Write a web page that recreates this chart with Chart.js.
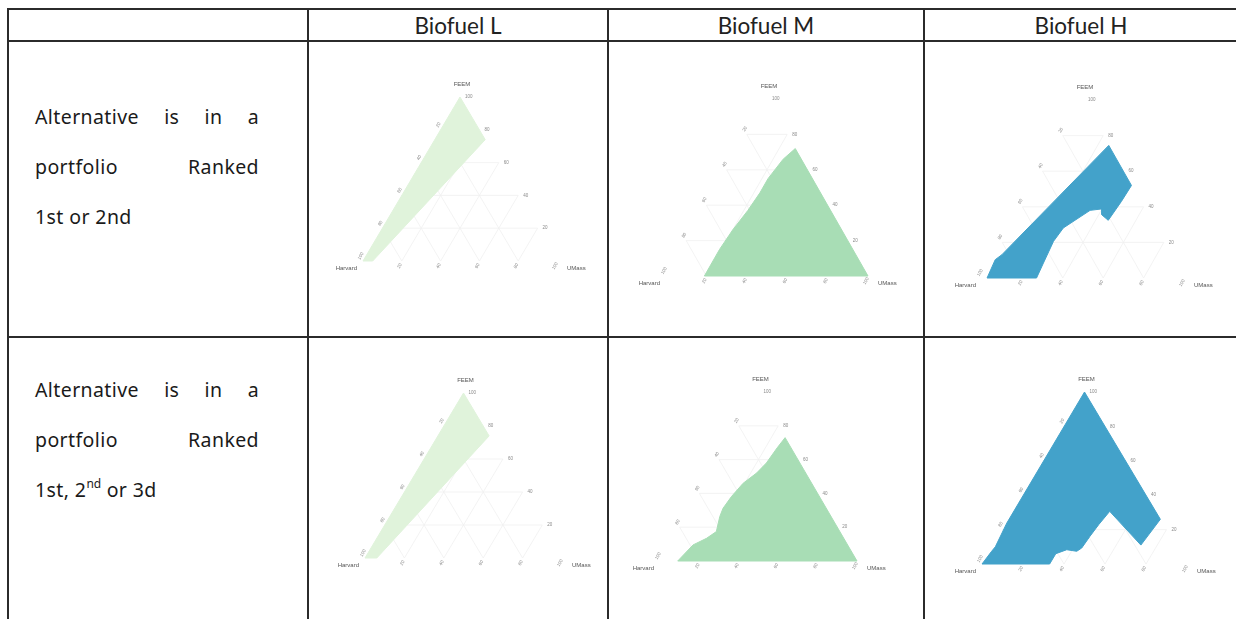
<!DOCTYPE html>
<html lang="en">
<head>
<meta charset="UTF-8">
<title>Biofuel portfolios - ternary maps</title>
<script src="https://cdn.jsdelivr.net/npm/chart.js"></script>
<style>
* { margin: 0; padding: 0; box-sizing: border-box; }
body {
    width: 1236px;
    height: 619px;
    position: relative;
    overflow: hidden;
    background: #fff;
    font-family: 'Noto Sans', sans-serif;
    color: #1a1a1a;
}
.hline { position: absolute; left: 7px; width: 1240px; height: 2px; background: #2b2b2b; }
.vline { position: absolute; top: 8px; width: 2px; height: 620px; background: #2b2b2b; }
.head {
    position: absolute;
    top: 10px;
    height: 31px;
    line-height: 31px;
    text-align: center;
    font-family: 'Lato', sans-serif;
    font-size: 22.5px;
    color: #222;
}
.desc { position: absolute; left: 35px; width: 224px; font-size: 19.5px; letter-spacing: 0.4px; }
.desc div { height: 50px; line-height: 50px; white-space: nowrap; }
.desc .just { text-align: justify; text-align-last: justify; white-space: normal; }
.desc sup { font-size: 12px; vertical-align: 9px; line-height: 0; letter-spacing: 0; }
.plot { position: absolute; }
</style>
</head>
<body>

<div class="hline" style="top:8px"></div>
<div class="hline" style="top:40px"></div>
<div class="hline" style="top:336px"></div>
<div class="vline" style="left:7px"></div>
<div class="vline" style="left:307px"></div>
<div class="vline" style="left:607px"></div>
<div class="vline" style="left:923px"></div>

<div id="heads"></div>

<div class="desc" style="top:92px">
    <div class="just">Alternative is in a</div>
    <div class="just">portfolio Ranked</div>
    <div>1st or 2nd</div>
</div>
<div class="desc" style="top:365px">
    <div class="just">Alternative is in a</div>
    <div class="just">portfolio Ranked</div>
    <div>1st, 2<sup>nd</sup> or 3d</div>
</div>

<script>
// column titles
const columns = ['Biofuel L', 'Biofuel M', 'Biofuel H'];

// ternary axes: top corner, bottom-left corner, bottom-right corner
const axisNames = ['FEEM', 'Harvard', 'UMass'];
const tickValues = [20, 40, 60, 80, 100];

// GnBu colours for the three biofuel levels
const fills = ['#e0f3db', '#a8ddb5', '#43a2ca'];

// regions, as [FEEM %, UMass %] pairs (Harvard = rest)
const lowTop2 = [[100, 0], [74, 26], [0, 5], [0, 0], [100, 0]];
const midTop2 = [[72, 28], [0, 100], [0, 19], [15, 19], [26, 20], [37, 22], [47, 23],
                 [55, 23], [66, 25], [72, 28]];
const highTop2 = [[74.5, 25.5], [52, 48], [43, 47.5], [32.4, 46.3], [35.6, 41.4],
                  [38.8, 39.8], [38, 34.5], [28.1, 26.2], [20.6, 25.1], [8.4, 26.2],
                  [0, 27], [0, 2.5], [10.3, 1.4], [13.1, 3.3], [74.5, 25.5]];

const lowTop3 = [[100, 0], [74, 26], [0, 6], [0, 0], [100, 0]];
const midTop3 = [[73, 27], [0, 100], [0, 9], [9.5, 12], [13.4, 16.9], [17.4, 19.9],
                 [26.3, 17.2], [31.2, 16.4], [38.1, 17.2], [46, 19.2], [52, 23],
                 [58, 25], [67, 26], [73, 27]];
const highTop3 = [[100, 0], [26, 74], [11, 72], [30.6, 47], [23, 45.5], [16, 44.6],
                  [9.3, 44], [7.4, 42.5], [8.3, 37.2], [6, 33], [0, 33], [0, 0],
                  [7.4, 1], [10, 1.5], [23.8, 0.2], [100, 0]];

// where each triangle sits on the page: left, right, top, base (px)
const plots = [
    { box: [363, 557, 97, 261], poly: lowTop2, fill: 0 },
    { box: [666, 868, 99, 276], poly: midTop2, fill: 1 },
    { box: [982, 1184, 100, 278], poly: highTop2, fill: 2 },
    { box: [365, 562, 393, 558], poly: lowTop3, fill: 0 },
    { box: [660, 857, 392, 561], poly: midTop3, fill: 1 },
    { box: [982, 1187, 392, 564], poly: highTop3, fill: 2 }
];

// headers
const colEdges = [308, 608, 924, 1238];
const heads = document.getElementById('heads');
columns.forEach((c, i) => {
    const d = document.createElement('div');
    d.className = 'head';
    d.style.left = colEdges[i] + 'px';
    d.style.width = (colEdges[i + 1] - colEdges[i]) + 'px';
    d.textContent = c;
    heads.appendChild(d);
});

// ternary -> plane (x runs 0..100 along the base, y is FEEM share)
const toXY = ([f, u]) => ({ x: u + f / 2, y: f });

// grid, corner names and tick labels drawn through the chart scales
const ternaryDecor = {
    id: 'ternaryDecor',
    beforeDatasetsDraw(chart) {
        const ctx = chart.ctx, xs = chart.scales.x, ys = chart.scales.y;
        const px = (f, u) => [xs.getPixelForValue(u + f / 2), ys.getPixelForValue(f)];
        ctx.save();
        ctx.strokeStyle = '#f0f0f0';
        ctx.lineWidth = 0.8;
        [20, 40, 60, 80].forEach(k => {
            [[px(k, 0), px(k, 100 - k)],
             [px(0, k), px(100 - k, k)],
             [px(0, 100 - k), px(100 - k, 0)]].forEach(([a, b]) => {
                ctx.beginPath();
                ctx.moveTo(a[0], a[1]);
                ctx.lineTo(b[0], b[1]);
                ctx.stroke();
            });
        });
        ctx.restore();
    },
    afterDatasetsDraw(chart) {
        const ctx = chart.ctx, xs = chart.scales.x, ys = chart.scales.y;
        const px = (f, u) => [xs.getPixelForValue(u + f / 2), ys.getPixelForValue(f)];
        ctx.save();
        ctx.fillStyle = '#555';
        ctx.font = '6px "Liberation Sans", sans-serif';
        ctx.textBaseline = 'middle';
        const top = px(100, 0), bl = px(0, 0), br = px(0, 100);
        ctx.textAlign = 'center';
        ctx.fillText(axisNames[0], top[0] + 2, top[1] - 13);
        ctx.textAlign = 'right';
        ctx.fillText(axisNames[1], bl[0] - 6, bl[1] + 7);
        ctx.textAlign = 'left';
        ctx.fillText(axisNames[2], br[0] + 10, br[1] + 7);

        ctx.fillStyle = '#8a8a8a';
        ctx.font = '4.5px "Liberation Sans", sans-serif';
        tickValues.forEach(v => {
            // FEEM along the right edge
            let p = px(v, 100 - v);
            ctx.textAlign = 'left';
            ctx.fillText(String(v), p[0] + 5, p[1]);
            // Harvard along the left edge
            p = px(100 - v + 3, 0);
            ctx.save();
            ctx.translate(p[0] - 5, p[1]);
            ctx.rotate(-Math.PI / 3);
            ctx.textAlign = 'center';
            ctx.fillText(String(v), 0, 0);
            ctx.restore();
            // UMass along the base
            p = px(0, v);
            ctx.save();
            ctx.translate(p[0] - 2, p[1] + 5);
            ctx.rotate(-Math.PI / 3);
            ctx.textAlign = 'center';
            ctx.fillText(String(v), 0, 0);
            ctx.restore();
        });
        ctx.restore();
    }
};

const padL = 48, padR = 48, padT = 26, padB = 16;
plots.forEach(p => {
    const [L, R, T, B] = p.box;
    const wrap = document.createElement('div');
    wrap.className = 'plot';
    wrap.style.left = (L - padL) + 'px';
    wrap.style.top = (T - padT) + 'px';
    const cv = document.createElement('canvas');
    cv.width = R - L + padL + padR;
    cv.height = B - T + padT + padB;
    wrap.appendChild(cv);
    document.body.appendChild(wrap);

    new Chart(cv, {
        type: 'scatter',
        data: {
            datasets: [{
                data: p.poly.map(toXY),
                showLine: true,
                fill: 'shape',
                backgroundColor: fills[p.fill],
                borderColor: fills[p.fill],
                borderWidth: 1,
                pointRadius: 0,
                tension: 0,
                clip: false
            }]
        },
        options: {
            responsive: false,
            animation: false,
            layout: { padding: { left: padL, right: padR, top: padT, bottom: padB } },
            scales: {
                x: { type: 'linear', min: 0, max: 100, display: false },
                y: { type: 'linear', min: 0, max: 100, display: false }
            },
            plugins: {
                legend: { display: false },
                tooltip: { enabled: false }
            }
        },
        plugins: [ternaryDecor]
    });
});
</script>
</body>
</html>
